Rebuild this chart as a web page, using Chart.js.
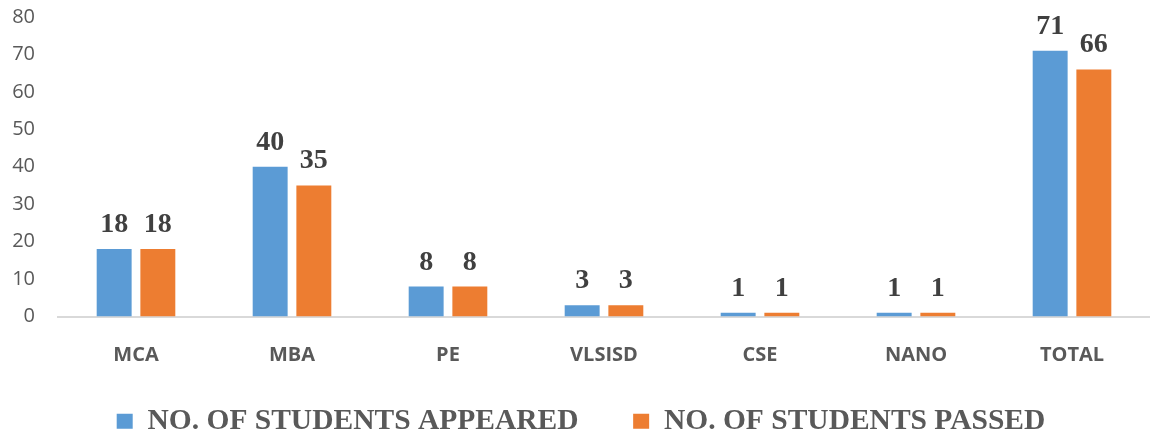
<!DOCTYPE html>
<html>
<head>
<meta charset="utf-8">
<script src="https://cdn.jsdelivr.net/npm/chart.js@4"></script>
<style>
  html, body { margin: 0; padding: 0; background: #fff; }
  #wrap { width: 1150px; height: 437px; }
</style>
</head>
<body>
<div id="wrap"><canvas id="myChart" width="1150" height="437"></canvas></div>
<script>
const courses = ["MCA", "MBA", "PE", "VLSISD", "CSE", "NANO", "TOTAL"];
const appeared = [18, 40, 8, 3, 1, 1, 71];
const passed = [18, 35, 8, 3, 1, 1, 66];
const yTicks = [0, 10, 20, 30, 40, 50, 60, 70, 80];

// draws the value above each bar
const barValues = {
    id: 'barValues',
    afterDatasetsDraw: function(chart) {
        const ctx = chart.ctx;
        ctx.save();
        ctx.font = 'bold 28px "Liberation Serif", "Times New Roman", serif';
        ctx.fillStyle = '#404040';
        ctx.textAlign = 'center';
        ctx.textBaseline = 'alphabetic';
        chart.data.datasets.forEach(function(ds, i) {
            chart.getDatasetMeta(i).data.forEach(function(bar, j) {
                ctx.fillText(ds.data[j], bar.x, bar.y - 17);
            });
        });
        ctx.restore();
    }
};

const ctx = document.getElementById('myChart').getContext('2d');
const myChart = new Chart(ctx, {
    type: 'bar',
    data: {
        labels: courses,
        datasets: [{
            label: 'NO. OF STUDENTS APPEARED',
            data: appeared,
            backgroundColor: '#5B9BD5',
            categoryPercentage: 0.56,
            barPercentage: 0.8
        }, {
            label: 'NO. OF STUDENTS PASSED',
            data: passed,
            backgroundColor: '#ED7D31',
            categoryPercentage: 0.56,
            barPercentage: 0.8
        }]
    },
    options: {
        responsive: false,
        animation: false,
        layout: { padding: { top: 17, right: 0, left: 12, bottom: -9 } },
        plugins: {
            tooltip: { enabled: false },
            legend: {
                position: 'bottom',
                labels: {
                    color: '#595959',
                    font: { family: '"Liberation Serif", "Times New Roman", serif', size: 29.5, weight: 'bold' },
                    boxWidth: 16,
                    boxHeight: 15,
                    padding: 3,
                    generateLabels: function(chart) {
                        const items = Chart.defaults.plugins.legend.labels.generateLabels(chart);
                        // extra room between the two legend entries
                        items[0].text = items[0].text + '       ';
                        return items;
                    }
                }
            }
        },
        scales: {
            x: {
                grid: { display: false, drawTicks: false },
                border: { color: '#d9d9d9', width: 2 },
                afterFit: function(scale) { scale.height = 87; },
                ticks: {
                    color: '#595959',
                    padding: 27,
                    font: { family: '"Open Sans", sans-serif', size: 20, weight: 'bold' }
                }
            },
            y: {
                min: 0,
                max: 80,
                afterBuildTicks: function(axis) {
                    axis.ticks = yTicks.map(function(v) { return { value: v }; });
                },
                afterFit: function(scale) {
                    scale.width = 46;
                    scale.paddingTop = 0;
                    scale.paddingBottom = 0;
                },
                grid: { display: false, drawTicks: false },
                border: { display: false },
                ticks: {
                    color: '#595959',
                    padding: 23,
                    font: { family: '"Open Sans", sans-serif', size: 20 }
                }
            }
        }
    },
    plugins: [barValues]
});
</script>
</body>
</html>
